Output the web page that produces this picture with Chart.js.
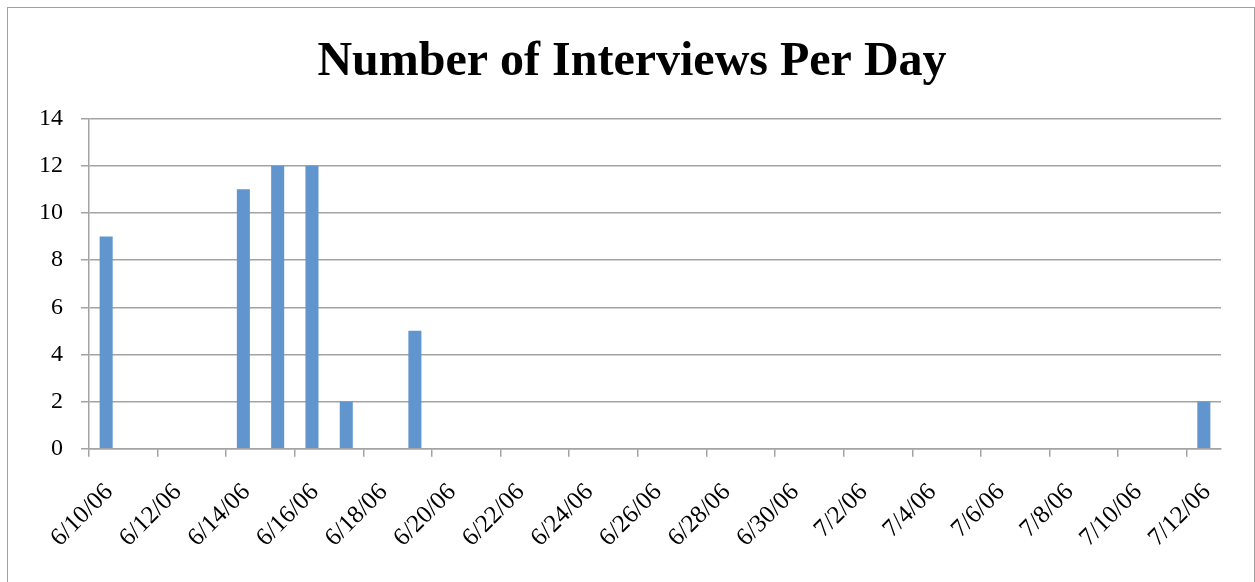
<!DOCTYPE html>
<html>
<head>
<meta charset="utf-8">
<script src="https://cdn.jsdelivr.net/npm/chart.js@4/dist/chart.umd.min.js"></script>
<style>
  body { margin: 0; background: #fff; }
  .frame { position: absolute; left: 7px; top: 7px; width: 1246px; height: 590px; border: 1px solid #a0a0a0; }
  canvas { position: absolute; left: 0; top: 0; }
</style>
</head>
<body>
<div class="frame"></div>
<canvas id="chart" width="1255" height="582"></canvas>
<script>
var days = [
    '6/10/06', '6/11/06', '6/12/06', '6/13/06', '6/14/06', '6/15/06', '6/16/06',
    '6/17/06', '6/18/06', '6/19/06', '6/20/06', '6/21/06', '6/22/06', '6/23/06',
    '6/24/06', '6/25/06', '6/26/06', '6/27/06', '6/28/06', '6/29/06', '6/30/06',
    '7/1/06', '7/2/06', '7/3/06', '7/4/06', '7/5/06', '7/6/06', '7/7/06',
    '7/8/06', '7/9/06', '7/10/06', '7/11/06', '7/12/06'
];
var interviews = [
    9, 0, 0, 0, 11, 12, 12,
    2, 0, 5, 0, 0, 0, 0,
    0, 0, 0, 0, 0, 0, 0,
    0, 0, 0, 0, 0, 0, 0,
    0, 0, 0, 0, 2
];
var yTicks = [0, 2, 4, 6, 8, 10, 12, 14];

var serif = "'Liberation Serif', 'Times New Roman', serif";
var gridColor = '#a3a3a3';

// nudge the title a little right, as in the original
var titleShift = {
    id: 'titleShift',
    afterLayout: function (chart) {
        if (chart.titleBlock) chart.titleBlock.left += 22;
    }
};

var ctx = document.getElementById('chart').getContext('2d');
var interviewsChart = new Chart(ctx, {
    type: 'bar',
    data: {
        labels: days,
        datasets: [{
            label: 'Interviews',
            data: interviews,
            backgroundColor: '#6096cd',
            borderWidth: 0,
            barPercentage: 0.38,
            categoryPercentage: 1
        }]
    },
    options: {
        responsive: false,
        animation: false,
        devicePixelRatio: 1,
        layout: {
            padding: { left: 21, right: 34, top: 7, bottom: 8 }
        },
        plugins: {
            legend: { display: false },
            tooltip: { enabled: false },
            title: {
                display: true,
                text: 'Number of Interviews Per Day',
                color: '#000',
                font: { family: serif, size: 48, weight: 'bold' },
                padding: { top: 27, bottom: 27 }
            }
        },
        scales: {
            x: {
                offset: true,
                grid: {
                    offset: true,
                    drawOnChartArea: false,
                    drawTicks: true,
                    tickLength: 8,
                    lineWidth: 1.5,
                    color: (c) => (c.index % 2 === 0 ? gridColor : 'rgba(0,0,0,0)')
                },
                border: { display: true, color: gridColor, width: 1.5 },
                ticks: {
                    autoSkip: false,
                    maxRotation: 45,
                    minRotation: 45,
                    padding: 21,
                    labelOffset: 3,
                    color: '#000',
                    font: { family: serif, size: 25 },
                    callback: function (value, index) {
                        return index % 2 === 0 ? days[index] : '';
                    }
                }
            },
            y: {
                min: yTicks[0],
                max: yTicks[yTicks.length - 1],
                afterBuildTicks: function (scale) {
                    scale.ticks = yTicks.map((v) => ({ value: v }));
                },
                grid: {
                    color: gridColor,
                    lineWidth: 1.5,
                    drawTicks: true,
                    tickLength: 8
                },
                border: { display: true, color: gridColor, width: 1.5 },
                ticks: {
                    padding: 18,
                    color: '#000',
                    font: { family: serif, size: 24 }
                }
            }
        }
    },
    plugins: [titleShift]
});
</script>
</body>
</html>
